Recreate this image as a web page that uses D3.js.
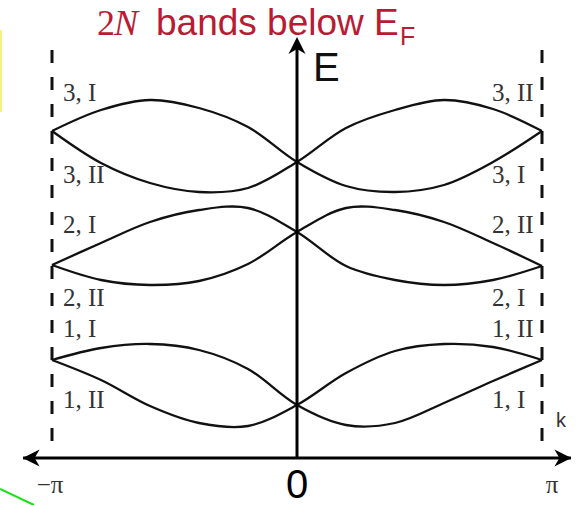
<!DOCTYPE html>
<html>
<head>
<meta charset="utf-8">
<script src="https://cdn.jsdelivr.net/npm/d3@7"></script>
<style>
  html, body { margin: 0; padding: 0; background: #fff; }
  svg { display: block; }
</style>
</head>
<body>
<svg id="chart" width="577" height="505"></svg>
<script>
// Wave-vector grid, in units of pi
const kGrid = [-1, -0.8, -0.6, -0.4, -0.2, 0, 0.2, 0.4, 0.6, 0.8, 1];

// Band energies (arbitrary units) on kGrid
const band1I  = [9.8, 11.0, 11.4, 10.8, 8.9, 5.3, 3.3, 3.5, 5.5, 7.7, 9.8];
const band1II = [9.8, 7.8, 5.2, 3.5, 3.2, 5.3, 8.5, 10.7, 11.4, 11.1, 9.8];
const band2I  = [19.3, 21.5, 23.6, 24.8, 25.0, 22.6, 19.2, 17.8, 17.3, 17.8, 19.2];
const band2II = [19.3, 17.8, 17.3, 17.7, 19.4, 22.6, 25.0, 24.8, 23.6, 21.5, 19.2];
const band3I  = [32.7, 34.8, 35.8, 35.0, 33.1, 29.6, 27.2, 26.6, 27.3, 29.6, 32.7];
const band3II = [32.7, 29.5, 27.5, 26.6, 27.0, 29.6, 33.0, 34.8, 35.8, 34.9, 32.7];

// Band labels at the left (k = -pi) and right (k = pi) zone edges
const leftLabels  = ["3, I", "3, II", "2, I", "2, II", "1, I", "1, II"];
const rightLabels = ["3, II", "3, I", "2, II", "2, I", "1, II", "1, I"];

// Axis tick labels
const kTickValues = [-1, 0, 1];
const kTickLabels = ["\u2212\u03c0", "0", "\u03c0"];

// ---- layout ----
const labelLevels = [35.7, 27.5, 22.5, 15.2, 12.1, 5.0];   // label baselines in energy units
const svg = d3.select("#chart");
const x = d3.scaleLinear().domain([-1, 1]).range([52, 542]);
const y = d3.scaleLinear().domain([0, 42]).range([458, 38]);

// decoration at the page edges
svg.append("line")
  .attr("x1", 1).attr("x2", 1).attr("y1", 30).attr("y2", 112)
  .attr("stroke", "#fbee86").attr("stroke-width", 2);
svg.append("line")
  .attr("x1", 0).attr("y1", 489).attr("x2", 34).attr("y2", 505)
  .attr("stroke", "#19e019").attr("stroke-width", 2);

// zone-boundary dashed lines
[-1, 1].forEach(k => {
  svg.append("line")
    .attr("x1", x(k)).attr("x2", x(k))
    .attr("y1", y(40.8)).attr("y2", y(1.2))
    .attr("stroke", "#111").attr("stroke-width", 3)
    .attr("stroke-dasharray", "13,14");
});

// bands
const line = d3.line()
  .x((d, i) => x(kGrid[i]))
  .y(d => y(d))
  .curve(d3.curveCatmullRom.alpha(0.5));

[band1I, band1II, band2I, band2II, band3I, band3II].forEach(b => {
  svg.append("path")
    .attr("d", line(b))
    .attr("fill", "none")
    .attr("stroke", "#111")
    .attr("stroke-width", 2.3);
});

// axes
const x0 = x(0), yAxis = y(0);
svg.append("line")
  .attr("x1", x(-1.118)).attr("x2", x(1.118))
  .attr("y1", yAxis).attr("y2", yAxis)
  .attr("stroke", "#000").attr("stroke-width", 3);
svg.append("line")
  .attr("x1", x0).attr("x2", x0)
  .attr("y1", yAxis).attr("y2", y(41.5))
  .attr("stroke", "#000").attr("stroke-width", 3);

function arrowHead(tx, ty, dx, dy) {
  // tip at (tx,ty), pointing along (dx,dy)
  const L = 17, W = 8.5, N = 12;
  const px = -dy, py = dx;
  const p = [
    [tx, ty],
    [tx - dx * L + px * W, ty - dy * L + py * W],
    [tx - dx * N, ty - dy * N],
    [tx - dx * L - px * W, ty - dy * L - py * W]
  ];
  svg.append("path").attr("d", "M" + p.map(q => q.join(",")).join("L") + "Z").attr("fill", "#000");
}
arrowHead(x0, y(42.1), 0, -1);
arrowHead(x(-1.12), yAxis, -1, 0);
arrowHead(x(1.12), yAxis, 1, 0);

// band labels
const serif = "'Liberation Serif', 'Times New Roman', serif";
const sans = "'Liberation Sans', Arial, sans-serif";
leftLabels.forEach((t, i) => {
  svg.append("text").attr("x", x(-1) + 11).attr("y", y(labelLevels[i]))
    .attr("font-family", serif).attr("font-size", 25).attr("fill", "#333").text(t);
});
rightLabels.forEach((t, i) => {
  svg.append("text").attr("x", x(1) - 50).attr("y", y(labelLevels[i]))
    .attr("font-family", serif).attr("font-size", 25).attr("fill", "#333").text(t);
});

// k-axis tick labels
kTickValues.forEach((k, i) => {
  const isZero = k === 0;
  svg.append("text")
    .attr("x", x(k) + (k < 0 ? -2 : (k > 0 ? 10 : 0)))
    .attr("y", isZero ? 498 : 493)
    .attr("text-anchor", "middle")
    .attr("font-family", isZero ? sans : serif)
    .attr("font-size", isZero ? 40 : 25)
    .attr("fill", isZero ? "#000" : "#333")
    .text(kTickLabels[i]);
});

// axis names
svg.append("text").attr("x", x0 + 16).attr("y", 81)
  .attr("font-family", sans).attr("font-size", 40).attr("fill", "#111").text("E");
svg.append("text").attr("x", 556).attr("y", 427)
  .attr("font-family", sans).attr("font-size", 20).attr("fill", "#333").text("k");

// title
const red = "#b81b33";
svg.append("text").attr("x", 97).attr("y", 35)
  .attr("font-family", serif).attr("font-size", 36).attr("fill", red).text("2");
svg.append("text").attr("x", 114).attr("y", 35)
  .attr("font-family", serif).attr("font-style", "italic").attr("font-size", 36).attr("fill", red).text("N");
svg.append("text").attr("x", 156).attr("y", 35)
  .attr("font-family", sans).attr("font-size", 37).attr("fill", red).text("bands below E");
svg.append("text").attr("x", 400).attr("y", 45)
  .attr("font-family", sans).attr("font-size", 25).attr("fill", red).text("F");
</script>
</body>
</html>
